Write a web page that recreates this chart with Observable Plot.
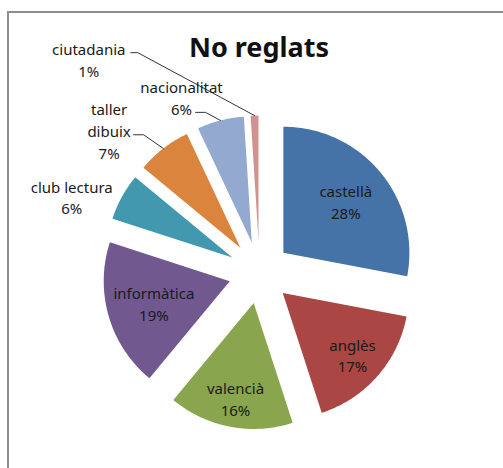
<!DOCTYPE html>
<html>
<head>
<meta charset="utf-8">
<script src="https://cdn.jsdelivr.net/npm/d3@7"></script>
<script src="https://cdn.jsdelivr.net/npm/@observablehq/plot@0.6"></script>
<style>
  html, body { margin: 0; padding: 0; background: #fff; }
  #wrap { position: relative; width: 503px; height: 468px; overflow: hidden; }
  #frame { position: absolute; left: 7px; top: 11px; width: 600px; height: 600px;
           border: 2px solid #8d8d8d; box-sizing: border-box; }
  #chart { position: absolute; left: 0; top: 0; }
</style>
</head>
<body>
<div id="wrap"><div id="frame"></div><div id="chart"></div></div>
<script>
// ---- data ----
const title = "No reglats";
const categories = ["castellà", "anglès", "valencià", "informàtica", "club lectura", "taller dibuix", "nacionalitat", "ciutadania"];
const labelNames = ["castellà", "anglès", "valencià", "informàtica", "club lectura", "taller\ndibuix", "nacionalitat", "ciutadania"];
const percents = [28, 17, 16, 19, 6, 7, 6, 1];
const colors = ["#4572A7", "#AA4643", "#89A54E", "#71588F", "#4198AF", "#DB843D", "#93A9CF", "#D19392"];

// ---- layout (pixels) ----
const W = 503, H = 468;
const pie = {cx: 259, cy: 272, r: 126, explode: 31};
// label placement: [angle in degrees (null = slice middle), distance from pie centre]
const labelPolar = [[null, 112], [null, 124], [null, 128], [null, 110], [292, 202.5], [313.4, 207], [336, 191.7], [321.4, 273.6]];
// leader lines for outside labels: [dx, dy from label centre, elbow length]
const leaders = {5: [24.5, 4.5, 10], 6: [14, 15, 10], 7: [42, -6, 7]};

const total = d3.sum(percents);
let cum = 0;
const slices = categories.map((c, i) => {
  const a0 = cum / total * 2 * Math.PI;
  cum += percents[i];
  const a1 = cum / total * 2 * Math.PI;
  const mid = (a0 + a1) / 2;
  const tx = pie.cx + pie.explode * Math.sin(mid);
  const ty = pie.cy - pie.explode * Math.cos(mid);
  return {cat: c, i, a0, a1, mid, tx, ty};
});

const wedgeRows = [];
for (const s of slices) {
  wedgeRows.push({cat: s.cat, x: s.tx, y: s.ty});
  const n = Math.max(2, Math.ceil((s.a1 - s.a0) / (Math.PI / 180)));
  for (let k = 0; k <= n; k++) {
    const a = s.a0 + (s.a1 - s.a0) * k / n;
    wedgeRows.push({cat: s.cat, x: s.tx + pie.r * Math.sin(a), y: s.ty - pie.r * Math.cos(a)});
  }
}

const labelRows = slices.map(s => {
  const [ang, dist] = labelPolar[s.i];
  const a = ang == null ? s.mid : ang * Math.PI / 180;
  return {
    cat: s.cat,
    x: pie.cx + dist * Math.sin(a),
    y: pie.cy - dist * Math.cos(a),
    text: labelNames[s.i] + "\n" + Math.round(percents[s.i] / total * 100) + "%"
  };
});

const leaderRows = [];
for (const key of Object.keys(leaders)) {
  const i = +key, s = slices[i], L = labelRows[i], [dx, dy, el] = leaders[key];
  const x0 = L.x + dx, y0 = L.y + dy;
  leaderRows.push({cat: s.cat, x: x0, y: y0});
  leaderRows.push({cat: s.cat, x: x0 + el, y: y0});
  leaderRows.push({cat: s.cat, x: s.tx + pie.r * Math.sin(s.mid), y: s.ty - pie.r * Math.cos(s.mid)});
}

const chart = Plot.plot({
  width: W, height: H,
  margin: 0,
  style: {background: "transparent", fontFamily: "'Noto Sans', 'Open Sans', sans-serif"},
  x: {domain: [0, W], range: [0, W], axis: null},
  y: {domain: [0, H], range: [0, H], axis: null},
  color: {domain: categories, range: colors},
  marks: [
    Plot.line(wedgeRows, {x: "x", y: "y", z: "cat", fill: "cat", stroke: null, curve: "linear-closed"}),
    Plot.line(leaderRows, {x: "x", y: "y", z: "cat", stroke: "#333", strokeWidth: 1}),
    Plot.text(labelRows, {x: "x", y: "y", text: "text", fontSize: 15, lineHeight: 1.45, fill: "#1a1a1a"}),
    Plot.text([title], {frameAnchor: "top", dx: 7, dy: 47.5, lineAnchor: "middle", fontSize: 27, fontWeight: "bold", fill: "#111"})
  ]
});
document.getElementById("chart").appendChild(chart);
</script>
</body>
</html>
